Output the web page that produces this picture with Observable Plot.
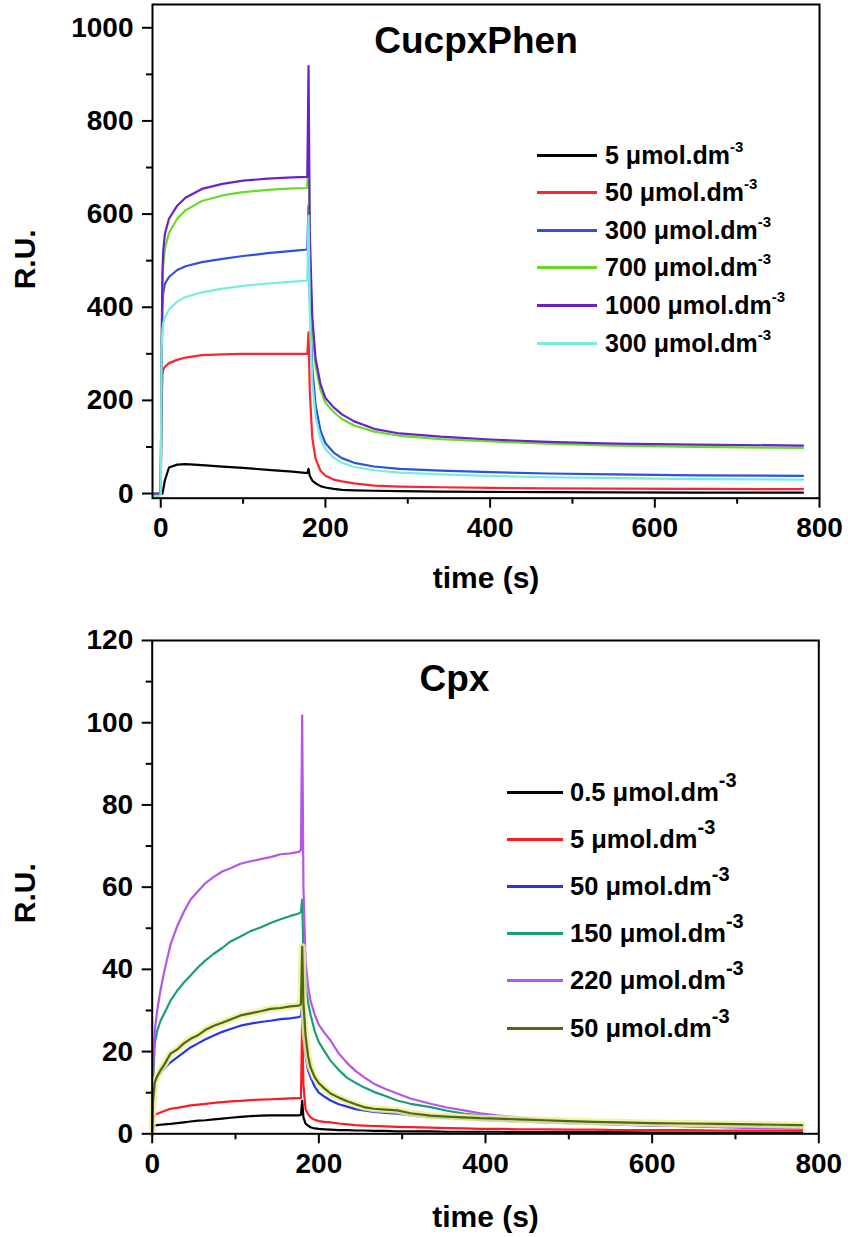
<!DOCTYPE html>
<html><head><meta charset="utf-8">
<script src="https://cdn.jsdelivr.net/npm/d3@7"></script>
<script src="https://cdn.jsdelivr.net/npm/@observablehq/plot@0.6"></script>
<style>
html,body{margin:0;padding:0;background:#fff;}
#root{position:relative;width:848px;height:1237px;overflow:hidden;font-family:"Liberation Sans",Arial,sans-serif;font-weight:bold;color:#000;}
.panel{position:absolute;left:0;}
.row{position:absolute;display:flex;align-items:center;white-space:nowrap;}
.sw{display:inline-block;height:3px;}
.sup{position:relative;}
</style></head><body><div id="root"></div>
<script>
// ---------- Top chart: CucpxPhen ----------
const topTitle = "CucpxPhen";
const topLabels = ["5", "50", "300", "700", "1000", "300"];
const topColors = ["#000000", "#ff2233", "#3050dd", "#66dd22", "#6a22c8", "#77eedd"];
const topXTicks = [0, 200, 400, 600, 800];
const topXMinor = [100, 300, 500, 700];
const topYTicks = [0, 200, 400, 600, 800, 1000];
const topYMinor = [100, 300, 500, 700, 900];
const tTop = [-8, -1, 0, 1, 2, 3, 5, 10, 20, 30, 50, 75, 100, 130, 160, 178, 179.5, 181, 184, 188, 194, 200, 210, 220, 235, 259, 290, 340, 400, 470, 550, 650, 780];
const cu5    = [0, 0, 0, 0, 0, 8, 28, 56, 62, 63, 61, 58, 55, 51, 47, 44, 53, 38, 28, 22, 16, 13, 10, 8, 7, 6, 5, 4, 3.5, 3, 2.5, 2, 2];
const cu50   = [-2, -2, 0, 185, 255, 265, 272, 280, 287, 292, 297, 299, 300, 300, 300, 300, 346, 220, 120, 75, 49, 38, 30, 26, 22, 17, 15, 13.5, 12, 11, 10.5, 10, 9.5];
const cu300  = [-3, -3, 0, 250, 400, 430, 450, 465, 480, 488, 497, 504, 510, 516, 521, 524, 618, 420, 270, 190, 135, 108, 88, 76, 66, 58, 53, 49, 46, 43, 41, 39, 38];
const cu700  = [-3, -3, 0, 280, 440, 490, 525, 560, 590, 608, 628, 640, 647, 652, 655, 656, 780, 520, 360, 275, 222, 195, 175, 160, 146, 133, 124, 117, 112, 107, 103, 100, 98];
const cu1000 = [-3, -3, 0, 300, 470, 520, 557, 590, 618, 635, 654, 665, 672, 676, 679, 680, 918, 560, 380, 290, 235, 205, 185, 170, 155, 139, 129, 122, 116, 111, 107, 105, 103];
const cu300b = [-5, -5, 0, 310, 350, 365, 378, 395, 412, 422, 432, 440, 446, 451, 455, 457, 597, 390, 240, 165, 118, 95, 77, 66, 57, 50, 45, 41, 38, 35, 33, 31, 30];

// ---------- Bottom chart: Cpx ----------
const botTitle = "Cpx";
const botLabels = ["0.5", "5", "50", "150", "220", "50"];
const botColors = ["#000000", "#ff1a22", "#2236ee", "#1a9e78", "#b655ee", "#4d6a12"];
const botXTicks = [0, 200, 400, 600, 800];
const botXMinor = [100, 300, 500, 700];
const botYTicks = [0, 20, 40, 60, 80, 100, 120];
const botYMinor = [10, 30, 50, 70, 90, 110];
const tBot = [0, 1, 3, 6, 10, 15, 22, 30, 38, 46, 55, 64, 74, 84, 94, 106, 118, 130, 142, 154, 166, 176, 178.5, 180, 181.5, 184, 187, 190, 195, 200, 207, 214, 224, 234, 244, 254, 266, 280, 294, 310, 334, 354, 374, 394, 414, 440, 470, 500, 530, 560, 600, 640, 680, 720, 750, 780];
const cpx05  = [0, 1.5, 2, 2.1, 2.2, 2.3, 2.4, 2.6, 2.8, 3.0, 3.2, 3.3, 3.5, 3.7, 3.9, 4.1, 4.3, 4.4, 4.5, 4.5, 4.5, 4.5, 4.6, 8, 4, 2.5, 2, 1.6, 1.3, 1.2, 1.1, 1.0, 0.9, 0.9, 0.8, 0.8, 0.7, 0.7, 0.6, 0.6, 0.6, 0.5, 0.5, 0.5, 0.5, 0.4, 0.4, 0.4, 0.4, 0.4, 0.3, 0.3, 0.3, 0.3, 0.3, 0.3];
const cpx5   = [0, 3, 4.5, 4.9, 5.2, 5.6, 6.1, 6.3, 6.6, 6.9, 7.1, 7.3, 7.5, 7.7, 7.9, 8.0, 8.2, 8.3, 8.4, 8.5, 8.6, 8.7, 8.7, 28, 12, 6, 4.8, 4, 3.4, 3.1, 2.9, 2.8, 2.5, 2.3, 2.1, 2, 1.9, 1.8, 1.7, 1.6, 1.5, 1.4, 1.3, 1.2, 1.2, 1.1, 1.1, 1.0, 1.0, 0.9, 0.9, 0.9, 0.8, 0.8, 0.8, 0.8];
const cpx50  = [0, 8, 12.5, 13.8, 14.8, 16, 17.4, 18.6, 19.8, 21, 22, 23, 23.9, 24.8, 25.5, 26.3, 26.8, 27.2, 27.5, 27.9, 28.1, 28.4, 28.6, 33, 26, 19, 15.5, 13.8, 11.5, 10, 9, 8.1, 7.2, 6.6, 6, 5.7, 5.3, 5.1, 4.9, 4.5, 4.0, 3.8, 3.6, 3.4, 3.2, 3.0, 2.8, 2.6, 2.4, 2.2, 2.0, 1.9, 1.8, 1.7, 1.6, 1.5];
const cpx150 = [0, 12, 22, 25, 27.5, 29.5, 32.4, 34.8, 36.8, 38.5, 40.5, 42.2, 43.8, 45.2, 46.8, 48, 49.3, 50.2, 51.3, 52.2, 53, 53.6, 54, 57, 44, 36, 32, 29, 25, 22.3, 20, 17.8, 15.5, 13.6, 12.4, 11.3, 10.2, 9.2, 8.1, 7.3, 6.5, 5.6, 4.9, 4.5, 4.0, 3.6, 3.2, 2.9, 2.6, 2.4, 2.2, 2.0, 1.9, 1.8, 1.7, 1.6];
const cpx220 = [0, 15, 25, 30, 35, 40, 46, 50.5, 54, 57, 59, 61, 62.5, 63.8, 64.6, 65.7, 66.3, 66.8, 67.3, 68, 68.2, 68.6, 69, 101.8, 60, 42, 36, 32.4, 29, 26.5, 24.5, 22.7, 19.5, 17.2, 15.3, 13.8, 12.2, 10.9, 9.8, 8.6, 7.3, 6.4, 5.7, 5.0, 4.5, 4.0, 3.5, 3.1, 2.7, 2.4, 2.1, 1.8, 1.6, 1.4, 1.3, 1.2];
const cpx50b = [0, 8, 12.5, 14, 15.5, 17, 19.5, 20.5, 22, 23.1, 24, 25.3, 26.3, 27, 27.8, 28.8, 29.3, 29.8, 30.4, 30.6, 31, 31.2, 31.5, 45.5, 32, 24, 19, 16.2, 13.8, 12.3, 11, 9.8, 8.8, 7.9, 7.2, 6.5, 6.1, 5.9, 5.7, 5.0, 4.4, 4.2, 4.0, 3.8, 3.7, 3.5, 3.3, 3.1, 2.9, 2.8, 2.6, 2.5, 2.4, 2.3, 2.2, 2.1];

const xLabel = "time (s)";
const yLabel = "R.U.";
const unit = "\u03bcmol.dm";
const unitSup = "-3";

const FONT = '"Liberation Sans", Arial, sans-serif';
const root = document.getElementById("root");

function rows(t, v) { return t.map((d, i) => ({t: d, v: v[i]})).filter(d => d.v != null); }

function chart(o) {
  const lineMarks = [];
  o.series.forEach((vals, i) => {
    const data = rows(o.t, vals);
    if (o.halo === i) lineMarks.push(Plot.line(data, {x: "t", y: "v", stroke: "#eef09a", strokeWidth: 7, strokeOpacity: 0.85}));
    lineMarks.push(Plot.line(data, {x: "t", y: "v", stroke: o.colors[i], strokeWidth: 2.2}));
  });
  const common = {stroke: "black", strokeWidth: 2, fontSize: 28, fontWeight: "bold", fontFamily: FONT, label: null};
  return Plot.plot({
    width: 848, height: o.height,
    marginLeft: o.ml, marginRight: o.mr, marginTop: o.mt, marginBottom: o.mb,
    x: {domain: o.xDomain, label: null},
    y: {domain: o.yDomain, label: null},
    style: {fontFamily: FONT, fontSize: "28px", fontWeight: "bold", color: "black", background: "transparent", overflow: "visible"},
    marks: [
      ...lineMarks,
      Plot.frame({stroke: "black", strokeWidth: 2}),
      Plot.axisY({...common, ticks: o.yTicks, tickSize: 10, tickPadding: 9, tickFormat: d => String(d)}),
      Plot.axisY({...common, ticks: o.yMinor, tickSize: 6, tickFormat: () => ""}),
      Plot.axisX({...common, ticks: o.xTicks, tickSize: 10, tickPadding: 9, tickFormat: d => String(d)}),
      Plot.axisX({...common, ticks: o.xMinor, tickSize: 6, tickFormat: () => ""}),
      Plot.text([o.title], {frameAnchor: "top", dx: o.titleDx, dy: o.titleDy, textAnchor: "middle", lineAnchor: "bottom", fontSize: 37, fontWeight: "bold", fontFamily: FONT, fill: "black"}),
      Plot.text([xLabel], {frameAnchor: "bottom", dy: o.xlDy, textAnchor: "middle", lineAnchor: "middle", fontSize: 30, fontWeight: "bold", fontFamily: FONT, fill: "black"}),
      Plot.text([yLabel], {frameAnchor: "left", dx: -127, dy: o.ylDy, rotate: -90, textAnchor: "middle", lineAnchor: "middle", fontSize: 30, fontWeight: "bold", fontFamily: FONT, fill: "black"})
    ]
  });
}

function legend(o) {
  o.labels.forEach((lab, i) => {
    const y = o.top0 + i * o.step;
    const row = document.createElement("div");
    row.className = "row";
    row.style.left = o.left + "px";
    row.style.top = (y - 20) + "px";
    row.style.height = "40px";
    row.style.fontSize = o.fontSize + "px";
    const sw = document.createElement("span");
    sw.className = "sw";
    sw.style.width = o.lineW + "px";
    sw.style.background = o.colors[i];
    sw.style.marginRight = o.gap + "px";
    row.appendChild(sw);
    const tx = document.createElement("span");
    tx.style.lineHeight = "normal";
    tx.innerHTML = lab + " " + unit + '<span class="sup" style="font-size:' + o.supSize + 'px;top:-' + o.supRaise + 'px">' + unitSup + '</span>';
    row.appendChild(tx);
    root.appendChild(row);
  });
}

const top1 = chart({
  height: 600, ml: 152, mr: 29, mt: 4, mb: 102.3,
  xDomain: [-10, 800], yDomain: [-10, 1050],
  t: tTop, series: [cu5, cu50, cu300, cu700, cu1000, cu300b], colors: topColors,
  xTicks: topXTicks, xMinor: topXMinor, yTicks: topYTicks, yMinor: topYMinor,
  title: topTitle, titleDx: -10, titleDy: 48, xlDy: 80, ylDy: 8
});
const p1 = document.createElement("div"); p1.className = "panel"; p1.style.top = "0px"; p1.appendChild(top1); root.appendChild(p1);

const bot1 = chart({
  height: 637, ml: 151.7, mr: 29.7, mt: 40, mb: 103.7,
  xDomain: [0, 800], yDomain: [0, 120],
  t: tBot, series: [cpx05, cpx5, cpx50, cpx150, cpx220, cpx50b], colors: botColors, halo: 5,
  xTicks: botXTicks, xMinor: botXMinor, yTicks: botYTicks, yMinor: botYMinor,
  title: botTitle, titleDx: -31, titleDy: 50, xlDy: 84, ylDy: 6
});
const p2 = document.createElement("div"); p2.className = "panel"; p2.style.top = "600px"; p2.appendChild(bot1); root.appendChild(p2);

legend({labels: topLabels, colors: topColors, left: 537, top0: 155, step: 37.6, lineW: 60, gap: 8, fontSize: 25, supSize: 15, supRaise: 12});
legend({labels: botLabels, colors: botColors, left: 507, top0: 792, step: 47.2, lineW: 56, gap: 7, fontSize: 25.5, supSize: 20, supRaise: 14});
</script></body></html>
